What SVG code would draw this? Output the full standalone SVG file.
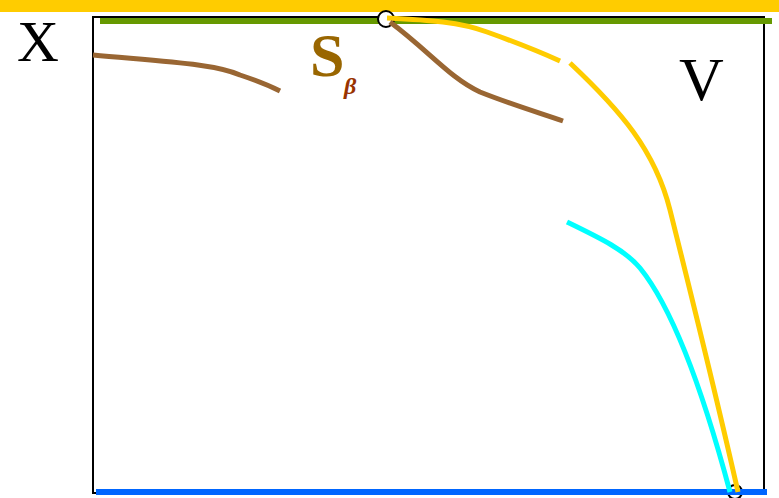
<svg xmlns="http://www.w3.org/2000/svg" width="779" height="498" viewBox="0 0 779 498">
<style>
.curve{fill:none;stroke-width:5}
.brown{stroke:#996633}
.yellow{stroke:#ffcc00}
.cyan{stroke:#00ffff}
.lbl{font-family:"Liberation Serif","Times New Roman",serif;fill:#000}
.sbig{font-family:"Liberation Serif","Times New Roman",serif;font-weight:bold;fill:#996600}
.beta{font-family:"Liberation Serif","Times New Roman",serif;font-weight:bold;font-style:italic;fill:#993300}
.pt{fill:#fff;stroke:#000;stroke-width:2}
</style>
<rect x="0" y="0" width="779" height="498" fill="#fff"/>
<rect x="0" y="0" width="779" height="12" fill="#ffcc00"/>
<rect x="93" y="17" width="671" height="476" fill="none" stroke="#000" stroke-width="2"/>
<g id="nodeB"><circle cx="735" cy="492" r="7" fill="none" stroke="#000" stroke-width="2"/></g>
<g id="connectors">
<line x1="100" y1="21" x2="772" y2="21" stroke="#669900" stroke-width="6"/>
<line x1="96" y1="492" x2="767" y2="492" stroke="#0066ff" stroke-width="6"/>
<path class="curve brown" d="M93,55 C170,62 215,64 240,75 C255,80 268,85 280,91"/>
<path class="curve yellow" d="M570,63 C620,110 655,150 670,210 C690,290 715,390 738,492"/>
<path class="curve cyan" d="M567,222 C600,238 625,250 640,268 C670,305 700,380 730,492"/>
</g>
<g id="nodeA"><circle class="pt" cx="386" cy="19" r="8"/></g>
<g id="connectors2">
<path class="curve yellow" d="M387,18 C430,20 460,22 487,32 C515,42 540,52 560,61"/>
<path class="curve brown" d="M390,22 C430,52 450,78 480,92 C510,104 540,113 563,121"/>
</g>
<g id="labelX"><text class="lbl" x="17" y="61" font-size="58">X</text></g>
<g id="labelV"><text class="lbl" x="679" y="100" font-size="62">V</text></g>
<g id="labelS">
<text class="sbig" x="310" y="76" font-size="62">S</text>
<text class="beta" x="344" y="94" font-size="24">β</text>
</g>
</svg>
